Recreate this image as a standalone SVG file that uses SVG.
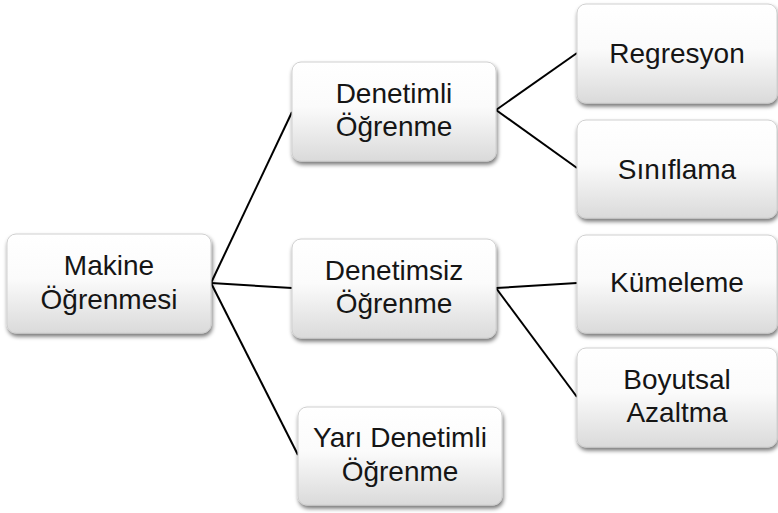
<svg xmlns="http://www.w3.org/2000/svg" width="778" height="513" viewBox="0 0 778 513">
<defs>
<linearGradient id="g" x1="0" y1="0" x2="0" y2="1">
<stop offset="0" stop-color="#ffffff"/>
<stop offset="0.45" stop-color="#fbfbfb"/>
<stop offset="1" stop-color="#dadada"/>
</linearGradient>
<filter id="sh" x="-10%" y="-10%" width="120%" height="130%">
<feGaussianBlur in="SourceAlpha" stdDeviation="2.2"/>
<feOffset dx="1" dy="3" result="b"/>
<feComponentTransfer><feFuncA type="linear" slope="0.55"/></feComponentTransfer>
<feMerge><feMergeNode/><feMergeNode in="SourceGraphic"/></feMerge>
</filter>
</defs>
<style>
.box{fill:url(#g);stroke:#d0d0d0;stroke-width:1;filter:url(#sh)}
.t{font-family:"Liberation Sans",Arial,sans-serif;font-size:28px;fill:#151515;text-anchor:middle}
.c{stroke:#000;stroke-width:2;fill:none}
</style>
<rect width="778" height="513" fill="#fff"/>
<g id="connectors">
<line class="c" x1="211" y1="283" x2="292" y2="112"/>
<line class="c" x1="211" y1="283" x2="292" y2="288"/>
<line class="c" x1="211" y1="283" x2="298" y2="455"/>
<line class="c" x1="496" y1="110" x2="577" y2="53"/>
<line class="c" x1="496" y1="110" x2="577" y2="168"/>
<line class="c" x1="496" y1="288" x2="577" y2="283"/>
<line class="c" x1="496" y1="288" x2="577" y2="397"/>
</g>
<g id="makine">
<rect class="box" x="7" y="234" width="204" height="99" rx="9"/>
<text class="t" x="109" y="275">Makine</text>
<text class="t" x="109" y="309">Öğrenmesi</text>
</g>
<g id="denetimli">
<rect class="box" x="292" y="62" width="204" height="99" rx="9"/>
<text class="t" x="394" y="103">Denetimli</text>
<text class="t" x="394" y="136">Öğrenme</text>
</g>
<g id="denetimsiz">
<rect class="box" x="292" y="239" width="204" height="99" rx="9"/>
<text class="t" x="394" y="280">Denetimsiz</text>
<text class="t" x="394" y="313">Öğrenme</text>
</g>
<g id="yari">
<rect class="box" x="298" y="407" width="204" height="98" rx="9"/>
<text class="t" x="400" y="447">Yarı Denetimli</text>
<text class="t" x="400" y="481">Öğrenme</text>
</g>
<g id="regresyon">
<rect class="box" x="577" y="4" width="200" height="99" rx="9"/>
<text class="t" x="677" y="63">Regresyon</text>
</g>
<g id="siniflama">
<rect class="box" x="577" y="120" width="200" height="98" rx="9"/>
<text class="t" x="677" y="179">Sınıflama</text>
</g>
<g id="kumeleme">
<rect class="box" x="577" y="235" width="200" height="98" rx="9"/>
<text class="t" x="677" y="292">Kümeleme</text>
</g>
<g id="boyutsal">
<rect class="box" x="577" y="348" width="200" height="99" rx="9"/>
<text class="t" x="677" y="389">Boyutsal</text>
<text class="t" x="677" y="422">Azaltma</text>
</g>
</svg>
